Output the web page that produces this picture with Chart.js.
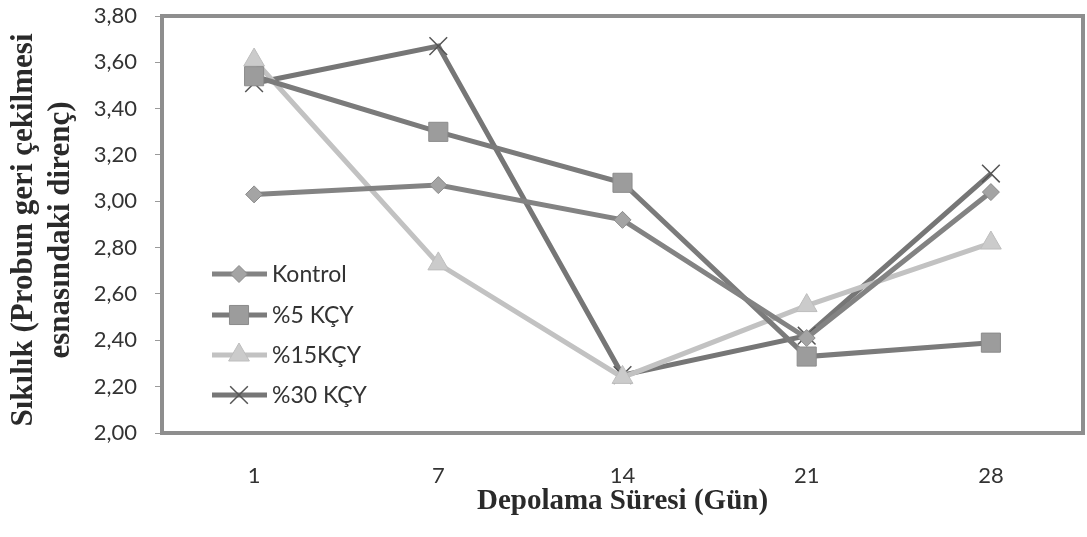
<!DOCTYPE html>
<html>
<head>
<meta charset="utf-8">
<script src="https://cdn.jsdelivr.net/npm/chart.js@4/dist/chart.umd.min.js"></script>
<style>
  html, body { margin: 0; padding: 0; background: #ffffff; }
  canvas { display: block; }
</style>
</head>
<body>
<canvas id="c" width="1087" height="537"></canvas>
<script>
// Storage days (x categories)
const days = ['1', '7', '14', '21', '28'];

// Firmness values per group
const kontrol = [3.03, 3.07, 2.92, 2.41, 3.04];
const kcy5    = [3.54, 3.30, 3.08, 2.33, 2.39];
const kcy15   = [3.61, 2.73, 2.24, 2.55, 2.82];
const kcy30   = [3.51, 3.67, 2.25, 2.42, 3.12];

const seriesNames = ['Kontrol', '%5 KÇY', '%15KÇY', '%30 KÇY'];

const yMin = 2.0, yMax = 3.8, yStep = 0.2;

const xTitle = 'Depolama Süresi (Gün)';
const yTitleLines = ['Sıkılık (Probun geri çekilmesi', 'esnasındaki direnç)'];

const tickFont = { family: 'Lato', size: 22 };

function dataset(label, data, line, style, radius, fill, edge, edgeW) {
  return {
    label, data,
    borderColor: line, borderWidth: 5,
    pointStyle: style, pointRadius: radius,
    pointBackgroundColor: fill, pointBorderColor: edge, pointBorderWidth: edgeW,
    tension: 0, fill: false
  };
}

// Frame around the plot area
const framePlugin = {
  id: 'frame',
  beforeDatasetsDraw(chart) {
    const a = chart.chartArea, ctx = chart.ctx;
    ctx.save();
    ctx.strokeStyle = '#8e8e8e';
    ctx.lineWidth = 4;
    ctx.strokeRect(a.left, a.top, a.right - a.left, a.bottom - a.top);
    ctx.restore();
  }
};

// Axis titles (serif, bold)
const titlePlugin = {
  id: 'titles',
  afterDraw(chart) {
    const ctx = chart.ctx, a = chart.chartArea;
    ctx.save();
    ctx.fillStyle = '#2a2a2a';
    ctx.textAlign = 'center';
    ctx.textBaseline = 'middle';
    ctx.font = 'bold 29px "Liberation Serif"';
    ctx.fillText(xTitle, (a.left + a.right) / 2, 502);
    ctx.font = 'bold 31px "Liberation Serif"';
    const cy = 230;
    const xs = [24, 61];
    yTitleLines.forEach((t, i) => {
      ctx.save();
      ctx.translate(xs[i], cy);
      ctx.rotate(-Math.PI / 2);
      ctx.fillText(t, 0, 0);
      ctx.restore();
    });
    ctx.restore();
  }
};

// Legend drawn inside the plot, at the lower left
const legendPlugin = {
  id: 'insideLegend',
  afterDatasetsDraw(chart) {
    const ctx = chart.ctx;
    const rows = [274, 315, 355, 395];
    const x0 = 212, x1 = 267, xm = 239, xt = 272;
    ctx.save();
    chart.data.datasets.forEach((ds, i) => {
      const y = rows[i];
      ctx.strokeStyle = ds.borderColor;
      ctx.lineWidth = ds.borderWidth;
      ctx.beginPath();
      ctx.moveTo(x0, y);
      ctx.lineTo(x1, y);
      ctx.stroke();
      ctx.fillStyle = ds.pointBackgroundColor;
      ctx.strokeStyle = ds.pointBorderColor;
      ctx.lineWidth = ds.pointBorderWidth;
      Chart.helpers.drawPoint(ctx, { pointStyle: ds.pointStyle, radius: ds.pointRadius, borderWidth: ds.pointBorderWidth, rotation: 0 }, xm, y);
      ctx.fillStyle = '#333333';
      ctx.font = '23px Lato';
      ctx.textAlign = 'left';
      ctx.textBaseline = 'middle';
      ctx.fillText(seriesNames[i], xt, y + 1);
    });
    ctx.restore();
  }
};

new Chart(document.getElementById('c'), {
  type: 'line',
  data: {
    labels: days,
    datasets: [
      dataset(seriesNames[0], kontrol, '#838383', 'rectRot', 8.5, '#a4a4a4', '#8a8a8a', 1),
      dataset(seriesNames[1], kcy5,    '#7b7b7b', 'rect',   13.5, '#9c9c9c', '#8c8c8c', 1),
      dataset(seriesNames[2], kcy15,   '#c2c2c2', 'triangle', 12, '#cbcbcb', '#bdbdbd', 1),
      dataset(seriesNames[3], kcy30,   '#767676', 'crossRot', 12.5, '#555555', '#555555', 1.5)
    ]
  },
  options: {
    responsive: false,
    animation: false,
    layout: { autoPadding: false, padding: { left: 0, right: 4, top: 16, bottom: 0 } },
    plugins: { legend: { display: false }, tooltip: { enabled: false } },
    scales: {
      x: {
        type: 'category',
        offset: true,
        grid: { display: false, drawTicks: false },
        border: { display: false },
        ticks: { color: '#333333', font: tickFont, padding: 30, maxRotation: 0 },
        afterFit(s) { s.height = 104; s.paddingLeft = 0; s.paddingRight = 0; }
      },
      y: {
        min: yMin, max: yMax,
        grid: { display: true, drawOnChartArea: false, drawTicks: true, tickLength: 7, color: '#9a9a9a' },
        border: { display: false },
        ticks: {
          stepSize: yStep, color: '#333333', font: tickFont, padding: 18,
          callback: v => v.toFixed(2).replace('.', ',')
        },
        afterFit(s) { s.width = 162; s.paddingTop = 0; s.paddingBottom = 0; }
      }
    }
  },
  plugins: [framePlugin, legendPlugin, titlePlugin]
});
</script>
</body>
</html>
